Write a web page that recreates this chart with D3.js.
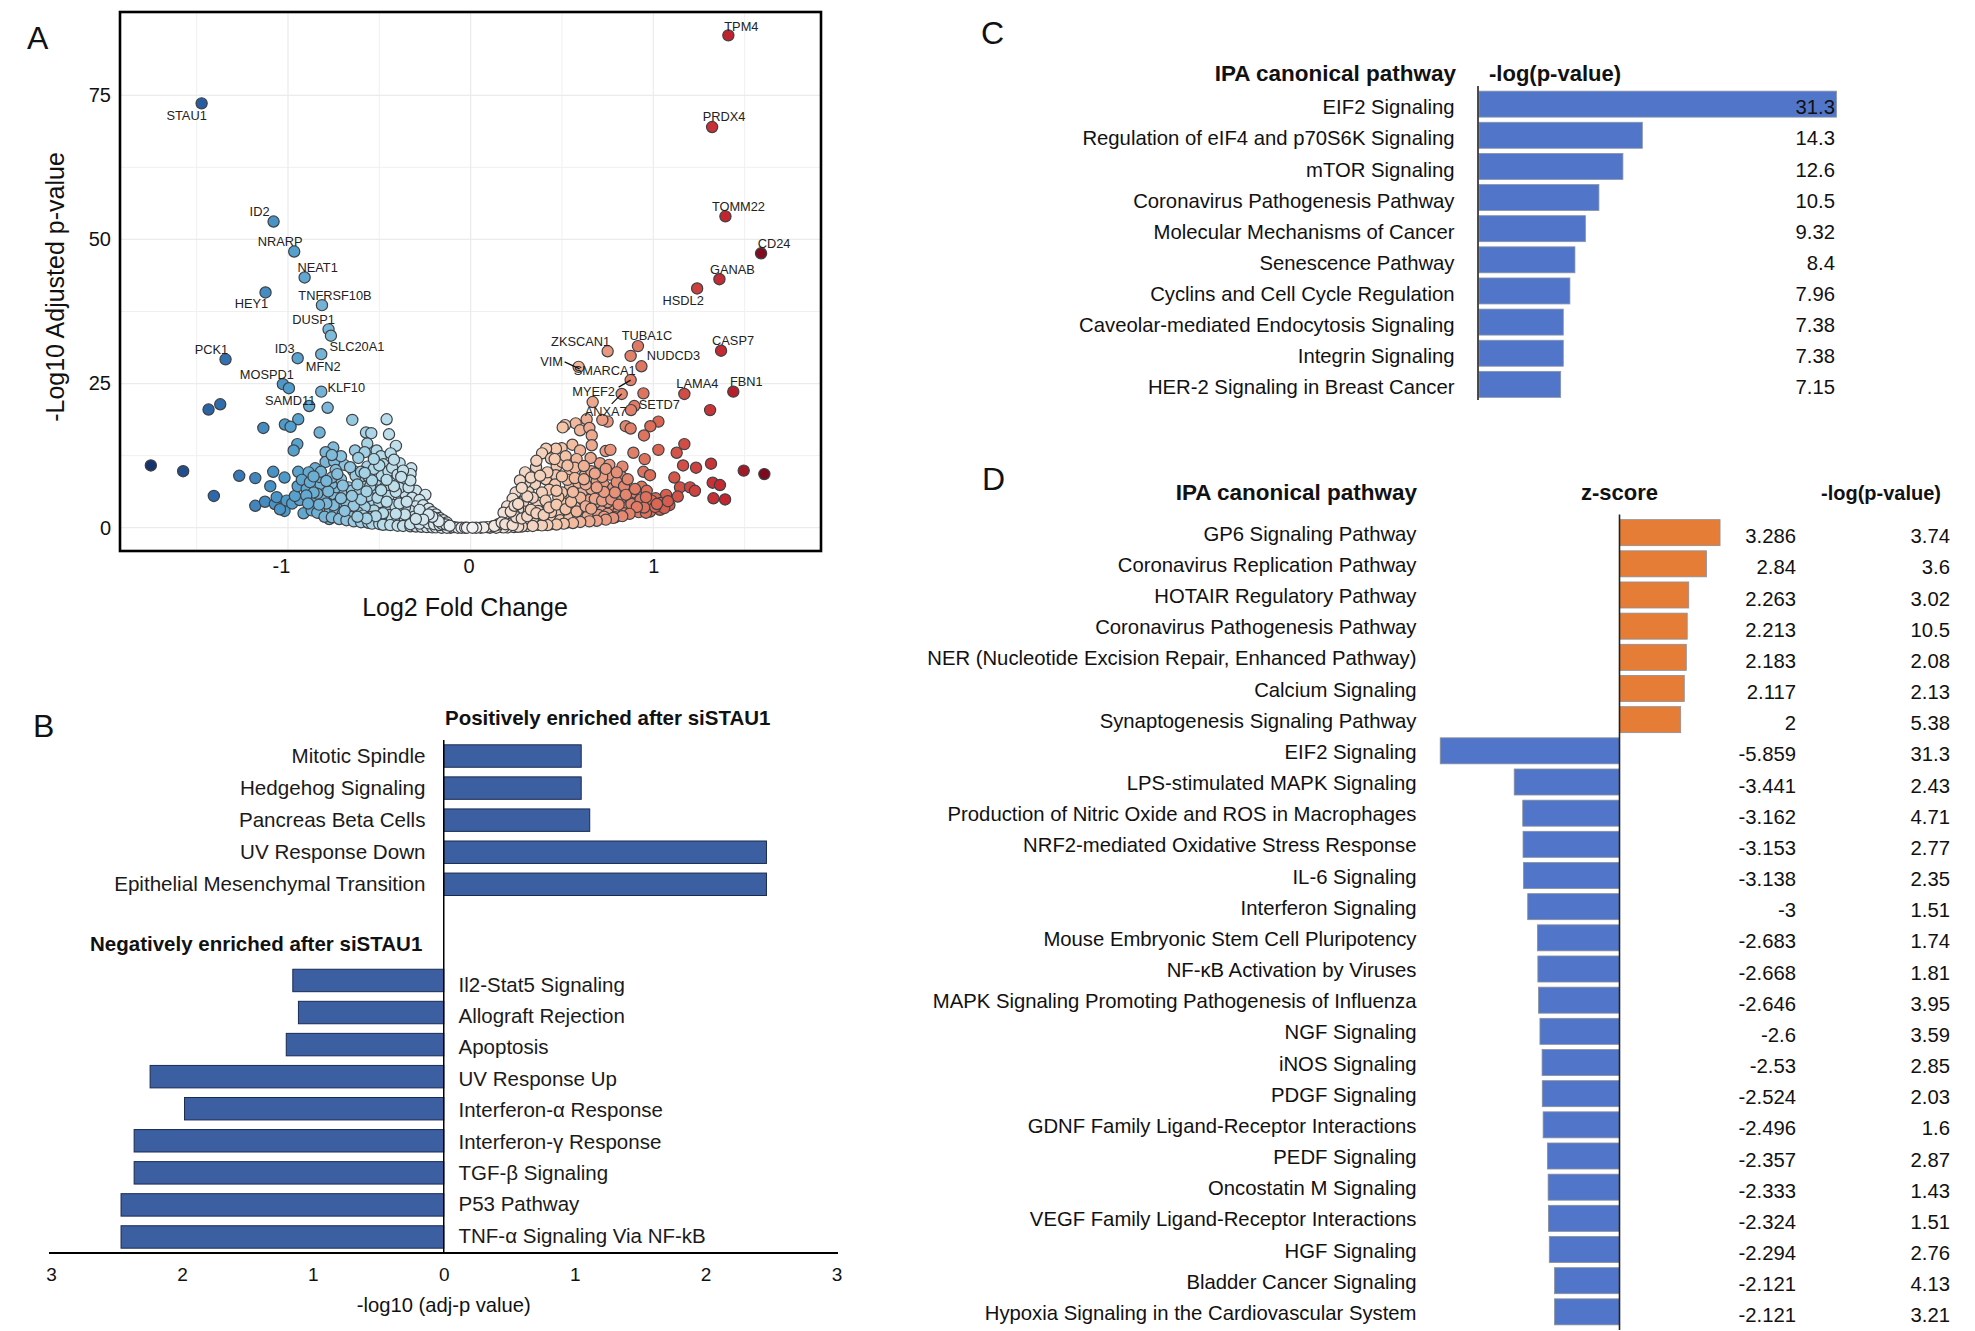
<!DOCTYPE html>
<html>
<head>
<meta charset="utf-8">
<script src="https://cdnjs.cloudflare.com/ajax/libs/d3/7.8.5/d3.min.js"></script>
<style>
body{margin:0;background:#fff;}
svg text{font-family:"Liberation Sans",Arial,sans-serif;}
</style>
</head>
<body>
<div class="canvas"></div>
<script>
// panel A: [log2 fold change, -log10 adj p]
var volcanoDown = [
[-1.473,73.6],[-1.079,53.1],[-.966,47.9],[-.909,43.4],[-1.123,40.8],[-.814,38.6],[-.778,34.4],[-.765,33.3],
[-.818,30.1],[-.947,29.4],[-1.342,29.2],[-1.028,24.9],[-.995,24.2],[-.818,23.6],[-.884,21.1],[-.783,20.8],
[-1.371,21.4],[-1.435,20.5],[-.944,18.8],[-1.017,17.9],[-.986,17.5],[-1.135,17.3],[-.827,16.5],[-.648,18.7],
[-.46,18.8],[-.573,16.5],[-.544,16.4],[-.447,16.2],[-.409,14.2],[-.566,14.6],[-.949,14.5],[-.969,13.4],
[-.752,13.9],[-.794,13.1],[-.633,13.4],[-.58,13.1],[-.515,13.4],[-.491,12.4],[-.438,12.9],[-.615,12.1],
[-.566,10.6],[-.478,11],[-.389,11.2],[-.325,10.3],[-.329,9.3],[-.692,10.9],[-.794,11.4],[-.747,11.5],
[-.851,10.3],[-.739,10],[-.643,9.9],[-1.751,10.8],[-1.574,9.8],[-1.267,9],[-1.179,8.6],[-1.081,9.7],
[-1.019,8.7],[-.944,9.7],[-.887,9.6],[-1.097,7.2],[-1.406,5.5],[-1.179,3.8],[-1.126,4.5],[-1.072,4.1],
[-1.062,5.3],[-1.019,2.9],[-1.044,3.2],[-1.008,4.7],[-.977,4.2],[-.936,4.8],[-.962,5.5],[-.947,7.2],
[-.924,8.3],[-.898,6.7],[-.823,7.6],[-.829,8.8],[-.852,4.8],[-.858,3.6],[-.801,4.9],[-.915,2.5],
[-.82,2.5],[-.774,1.5],[-.727,2.1],[-.75,5.8],[-.734,7],[-.761,7.6],[-.679,5.3],[-.67,7],
[-.606,8.3],[-.579,7.1],[-.518,7.6],[-.487,9],[-.424,8],[-.358,8.1],[-.619,4.8],[-.548,4.1],
[-.487,5.8],[-.413,5.1],[-.356,5.8],[-.299,6.4],[-.248,5.7],[-.661,3.2],[-.564,2.5],[-.639,1.5],
[-.688,1.6],[-.58,1.1],[-.52,1.2],[-.46,.6],[-.416,.6],[-.365,.75],[-.281,.35],[-.219,.17],
[-.155,.06],[-.11,0],[-.8,3.3],[-.78,6.3],[-.71,8.4],[-.69,6.1],[-.65,6.4],[-.63,9],
[-.6,9.7],[-.56,8.9],[-.53,10.2],[-.45,9.8],[-.43,10.4],[-.4,9.2],[-.37,9.9],[-.52,6.5],
[-.47,7],[-.44,6.7],[-.39,6.9],[-.34,7],[-.32,5.2],[-.28,4.8],[-.3,3.7],[-.26,3.9],
[-.23,3.3],[-.21,2.7],[-.19,2.3],[-.17,1.7],[-.15,1.3],[-.13,.9],[-.2,1.2],[-.24,1.9],
[-.27,2.5],[-.33,2.9],[-.36,3.5],[-.4,3.2],[-.43,4],[-.47,3.3],[-.5,4.4],[-.53,3],
[-.58,3.6],[-.62,2.7],[-.66,2.4],[-.71,3.1],[-.73,4.2],[-.68,4.3],[-.61,6],[-.56,5.5],
[-.51,5.2],[-.45,5.5],[-.39,4.2],[-.35,4.5],[-.31,1.9],[-.29,1.1],[-.34,1.3],[-.38,1.7],
[-.42,1.5],[-.45,2.2],[-.49,1.8],[-.54,1.9],[-.59,2.1],[-.64,3.8],[-.35,.7],[-.3,.55],
[-.25,.4],[-.25,.9],[-.22,.55],[-.18,.3],[-.14,.4],[-.12,.15],[-.09,.1],[-.07,0],
[-.05,0],[-.03,0],[-.16,.8],[-.28,3.1],[-.41,6.2],[-.46,4.5],[-.55,7.2],[-.6,4.9],
[-.77,3],[-.84,5.9],[-.87,3],[-.74,2.9],[-.7,2.4],[-.66,1.9],[-.76,8.7],[-.82,9.7],
[-.88,7.9],[-.86,6.1],[-.9,5.6],[-.84,2.6],[-.8,1.9],[-.76,1.8],[-.72,1.5],[-.68,1.3],
[-.64,1.1],[-.6,.95],[-.56,.85],[-.54,.7],[-.5,.65],[-.48,.5],[-.44,.45],[-.4,.35],
[-.37,.3],[-.33,.25],[-.3,.2],[-.27,.15],[-.24,.1],[-.21,.05],[-.19,.05],[-.16,0],
[-.13,0],[-.02,0],[-.33,.6],[-.28,.7],[-.23,.75],[-.2,.6],[-.17,.45],[-.155,.6],
[-.135,.55],[-.115,.35],[-.19,1.6],[-.175,1.1],[-.21,1.9],[-.23,2.3],[-.26,1.4],[-.3,1.5],
[-.36,2.3],[-.41,2.4],[-.48,2.5],[-.52,2],[-.57,1.6],[-.62,1.9],[-.69,2.9],[-.75,3.9],
[-.79,4.2],[-.83,4],[-.89,4.2],[-.71,5.1],[-.65,5.5],[-.57,6.3],[-.49,6.5],[-.42,7.2],
[-.33,8.2],[-.38,8.8],[-.46,8.3],[-.54,8.2],[-.62,7.5],[-.7,7.3],[-.79,8.1],[-.86,8.9],
[-.73,9.3],[-.66,10.5],[-.58,9.5],[-.5,10.8],[-.42,11.8],[-.71,12.4],[-.76,12.6],[-.53,11.9]
];
var volcanoUp = [
[1.411,85.4],[1.322,69.5],[1.395,54],[1.59,47.6],[1.362,43.1],[1.24,41.5],[1.371,30.7],[.75,30.6],
[.916,31.5],[.876,29.8],[.935,28],[.591,27.9],[.876,25.6],[.827,23.2],[.946,23.3],[1.17,23.2],
[1.438,23.6],[.668,21.8],[.896,21.1],[.878,20.4],[1.311,20.4],[1.028,18.4],[.984,17.6],[.849,17.6],
[.876,17.2],[.949,16],[.75,18.4],[.721,18.7],[.635,18.8],[.575,18.1],[.517,17.8],[.504,17.4],
[.599,16.9],[.65,17.3],[.663,16],[.663,14.3],[.557,14.4],[.498,13.8],[.467,13.7],[.413,13.7],
[.391,12.9],[.599,13.4],[.739,13.3],[.765,13.5],[.891,13],[1.028,13.5],[1.17,14.5],[1.128,13],
[.953,11.9],[1.163,10.8],[1.234,10.4],[1.316,11.1],[1.495,9.9],[1.608,9.3],[.946,9.7],[.982,9.1],
[.831,10.6],[.827,8.8],[1.115,8.7],[1.325,7.8],[1.365,7.4],[1.146,7],[1.201,7],[1.228,6.4],
[1.329,5.1],[1.393,4.9],[1.07,5.7],[1.134,5.4],[1.013,5.1],[1.088,3.9],[.936,7.1],[.882,6],
[.964,6.4],[.958,4.2],[.982,2.8],[1.037,3.1],[.927,3.1],[.873,2.8],[.818,2.2],[.776,2],
[.727,1.6],[.672,1.4],[.613,1.3],[.526,.9],[.438,.6],[.367,.5],[.31,.3],[.237,.1],
[.17,.1],[.106,0],[.055,0],[.708,11.2],[.763,9.2],[.759,10.9],[.626,9.1],[.544,9.6],
[.471,10.7],[.358,10.5],[.298,9.6],[.352,7.6],[.412,8.4],[.467,9.1],[.58,11.9],[.657,12.1],
[.544,7],[.462,7.5],[.246,6.1],[.316,6.2],[.288,4.5],[.361,3.9],[.407,2.8],[.535,5.1],
[.571,3.6],[.705,5.8],[.66,9.8],[.69,8.1],[.73,7.4],[.78,6.9],[.8,7.9],[.84,7.2],
[.86,4.7],[.79,4.1],[.76,5.6],[.7,3.9],[.65,4.8],[.61,6.2],[.59,7.8],[.53,8.3],
[.5,6.1],[.43,6.6],[.39,6.1],[.34,5.2],[.3,7.8],[.41,4.7],[.46,3.3],[.5,4.3],
[.56,2.4],[.62,3],[.67,2.6],[.72,2.9],[.77,3.1],[.83,3.6],[.9,4.2],[.66,6.7],
[.48,2.2],[.44,1.5],[.38,1.7],[.33,2.2],[.29,2.8],[.26,3.2],[.24,2.2],[.21,1.6],
[.19,1.1],[.16,.7],[.14,.35],[.12,.2],[.09,.1],[.07,.05],[.03,0],[.27,.9],
[.31,1.2],[.35,1],[.4,1],[.49,1.3],[.54,1.7],[.59,1.9],[.64,2],[.7,2.2],
[.75,2.4],[.81,2.9],[.85,3.6],[.92,2.7],[.96,2.6],[.57,10.4],[.5,11.4],[.44,12],
[.36,11.6],[.33,8.7],[.27,8.2],[.23,5],[.2,3.7],[.18,2.6],[.52,12.4],[.62,10.7],
[.72,8.8],[.6,5.2],[.48,5.3],[.37,2.9],[.25,1.2],[.22,.7],[.3,.7],[.44,2.7],
[.75,4.4],[.68,5],[.82,5],[.73,1.9],[.88,4.1],[.79,1.8],[.84,2.5],[.93,4.9],[.99,4.7],
[1.04,4.3],[1.06,3.4],[1.01,3.6],[.95,3.5],[.91,3.6],[.87,2.4],[.83,2],[.78,1.7],
[.74,1.4],[.69,1.2],[.65,1.1],[.6,1],[.56,.8],[.51,.7],[.47,.55],[.42,.45],
[.39,.4],[.34,.3],[.28,.2],[.26,.15],[.2,.05],[.18,.05],[.14,0],[.01,0],
[.15,.55],[.13,.3],[.17,.9],[.19,.6],[.23,.45],[.25,1.8],[.28,1.6],[.31,2],
[.22,2.8],[.24,3.8],[.26,4.1],[.33,3.1],[.36,2.5],[.4,2.2],[.43,3.5],[.47,4],
[.52,3.2],[.55,4.5],[.58,2.8],[.63,3.7],[.66,3.3],[.72,4.7],[.77,4.9],[.81,4],
[.85,5.7],[.79,6.1],[.73,6.2],[.69,7],[.63,7.5],[.57,8.6],[.5,8.9],[.42,9.6],
[.38,9],[.31,5.4],[.28,6.9],[.47,6.4],[.56,6.2],[.62,8.4],[.68,9.4],[.74,10.2],
[.8,9.6],[.86,8.4],[.9,6.7],[.96,5.3],[1.02,4.1],[1.08,4.6],[.53,10.8],[.46,11.9]
];
var geneNames = ["STAU1","ID2","NRARP","NEAT1","HEY1","TNFRSF10B","DUSP1","SLC20A1","ID3","MFN2","PCK1","MOSPD1","KLF10","SAMD11",
  "TPM4","PRDX4","TOMM22","CD24","GANAB","HSDL2","ZKSCAN1","TUBA1C","NUDCD3","CASP7","VIM","SMARCA1","MYEF2","ANXA7","SETD7","LAMA4","FBN1"];
var genePoints = [[-1.473,73.6],[-1.079,53.1],[-.966,47.9],[-.909,43.4],[-1.123,40.8],[-.814,38.6],[-.778,34.4],[-.765,33.3],[-.947,29.4],[-.818,30.1],[-1.342,29.2],[-1.028,24.9],[-.818,23.6],[-.884,21.1],
  [1.411,85.4],[1.322,69.5],[1.395,54],[1.59,47.6],[1.362,43.1],[1.24,41.5],[.75,30.6],[.916,31.5],[.935,28],[1.371,30.7],[.591,27.9],[.876,29.8],[.876,25.6],[.827,23.2],[.896,21.1],[1.17,23.2],[1.438,23.6]];
var volcanoXTicks = [-1,0,1];
var volcanoYTicks = [0,25,50,75];

// panel B
var hallmarkUp = ["Mitotic Spindle","Hedgehog Signaling","Pancreas Beta Cells","UV Response Down","Epithelial Mesenchymal Transition"];
var hallmarkUpValues = [1.05,1.05,1.115,2.465,2.465];
var hallmarkDown = ["Il2-Stat5 Signaling","Allograft Rejection","Apoptosis","UV Response Up","Interferon-α Response","Interferon-γ Response","TGF-β Signaling","P53 Pathway","TNF-α Signaling Via NF-kB"];
var hallmarkDownValues = [1.153,1.11,1.203,2.243,1.98,2.365,2.365,2.465,2.465];
var hallmarkTicks = [-3,-2,-1,0,1,2,3];

// panel C
var ipaPathways = ["EIF2 Signaling","Regulation of eIF4 and p70S6K Signaling","mTOR Signaling","Coronavirus Pathogenesis Pathway","Molecular Mechanisms of Cancer","Senescence Pathway","Cyclins and Cell Cycle Regulation","Caveolar-mediated Endocytosis Signaling","Integrin Signaling","HER-2 Signaling in Breast Cancer"];
var ipaLogP = [31.3,14.3,12.6,10.5,9.32,8.4,7.96,7.38,7.38,7.15];

// panel D
var zPathways = ["GP6 Signaling Pathway","Coronavirus Replication Pathway","HOTAIR Regulatory Pathway","Coronavirus Pathogenesis Pathway","NER (Nucleotide Excision Repair, Enhanced Pathway)","Calcium Signaling","Synaptogenesis Signaling Pathway","EIF2 Signaling","LPS-stimulated MAPK Signaling","Production of Nitric Oxide and ROS in Macrophages","NRF2-mediated Oxidative Stress Response","IL-6 Signaling","Interferon Signaling","Mouse Embryonic Stem Cell Pluripotency","NF-κB Activation by Viruses","MAPK Signaling Promoting Pathogenesis of Influenza","NGF Signaling","iNOS Signaling","PDGF Signaling","GDNF Family Ligand-Receptor Interactions","PEDF Signaling","Oncostatin M Signaling","VEGF Family Ligand-Receptor Interactions","HGF Signaling","Bladder Cancer Signaling","Hypoxia Signaling in the Cardiovascular System"];
var zScores = [3.286,2.84,2.263,2.213,2.183,2.117,2,-5.859,-3.441,-3.162,-3.153,-3.138,-3,-2.683,-2.668,-2.646,-2.6,-2.53,-2.524,-2.496,-2.357,-2.333,-2.324,-2.294,-2.121,-2.121];
var zLogP = [3.74,3.6,3.02,10.5,2.08,2.13,5.38,31.3,2.43,4.71,2.77,2.35,1.51,1.74,1.81,3.95,3.59,2.85,2.03,1.6,2.87,1.43,1.51,2.76,4.13,3.21];

var svg = d3.select('.canvas').append('svg')
    .attr('width',1975).attr('height',1331)
    .style('display','block');

function panelLetter(t,x,y){
    svg.append('text').text(t).attr('x',x).attr('y',y).attr('font-size',32).attr('fill','#111');
}
panelLetter('A',27,49);
panelLetter('B',33,737);
panelLetter('C',981,44);
panelLetter('D',982,490);

// ---------- A: volcano
var frame = {l:120,t:12,r:821,b:551};
var xA = d3.scaleLinear().domain([-1,1]).range([288,653.3]);
var yA = d3.scaleLinear().domain([0,75]).range([527.7,95.3]);
var colorA = d3.scaleLinear()
    .domain([-1.75,-1.4,-1,-.5,0,.5,1,1.4,1.6])
    .range(['#17336b','#2d69ad','#4f9ccb','#b4dbe9','#f2f2f2','#f5c6a9','#dc6a55','#c3242e','#7e0c20']);
var gA = svg.append('g').attr('class','volcano');

// grid, major + minor
[-1.5,-.5,.5,1.5].forEach(function(d){
    gA.append('line').attr('x1',xA(d)).attr('x2',xA(d)).attr('y1',frame.t).attr('y2',frame.b).attr('stroke','#f0f0f0');
});
[12.5,37.5,62.5].forEach(function(d){
    gA.append('line').attr('y1',yA(d)).attr('y2',yA(d)).attr('x1',frame.l).attr('x2',frame.r).attr('stroke','#f0f0f0');
});
volcanoXTicks.forEach(function(d){
    gA.append('line').attr('x1',xA(d)).attr('x2',xA(d)).attr('y1',frame.t).attr('y2',frame.b).attr('stroke','#ebebeb').attr('stroke-width',1.2);
});
volcanoYTicks.forEach(function(d){
    gA.append('line').attr('y1',yA(d)).attr('y2',yA(d)).attr('x1',frame.l).attr('x2',frame.r).attr('stroke','#ebebeb').attr('stroke-width',1.2);
});

gA.append('g').selectAll('circle').data(volcanoDown.concat(volcanoUp)).enter().append('circle')
    .attr('cx',function(d){return xA(d[0]);})
    .attr('cy',function(d){return yA(d[1]);})
    .attr('r',5.6)
    .attr('fill',function(d){return colorA(d[0]);})
    .attr('stroke','#3d4145')
    .attr('stroke-width',1.2);

// label offsets from the point, px
var geneNudge = {STAU1:[-15,12],ID2:[-14,-10],NRARP:[-14,-10],NEAT1:[13,-10],HEY1:[-14,11],TNFRSF10B:[13,-10],DUSP1:[-15,-10],SLC20A1:[26,11],
    ID3:[-13,-10],MFN2:[2,12],PCK1:[-14,-10],MOSPD1:[-16,-10],KLF10:[25,-4],SAMD11:[-19,-6],TPM4:[13,-9],PRDX4:[12,-10],TOMM22:[13,-10],CD24:[13,-10],
    GANAB:[13,-10],HSDL2:[-14,12],ZKSCAN1:[-27,-10],TUBA1C:[9,-11],NUDCD3:[32,-11],CASP7:[12,-10],VIM:[-27,-5],SMARCA1:[-26,15],MYEF2:[-37,11],
    ANXA7:[-16,18],SETD7:[25,-2],LAMA4:[13,-10],FBN1:[13,-10]};

gA.append('g').selectAll('text').data(geneNames).enter().append('text')
    .text(function(d){return d;})
    .attr('x',function(d,i){return xA(genePoints[i][0])+geneNudge[d][0];})
    .attr('y',function(d,i){return yA(genePoints[i][1])+geneNudge[d][1];})
    .attr('dy','.35em').attr('text-anchor','middle')
    .attr('font-size',12.8).attr('fill','#222');

// leader lines, px from the point
var leaders = {VIM:[-14,-5,1,2],MYEF2:[-12,7,0,0],ANXA7:[-10,10,0,0]};
Object.keys(leaders).forEach(function(k){
    var p = genePoints[geneNames.indexOf(k)], o = leaders[k];
    gA.append('line').attr('x1',xA(p[0])+o[0]).attr('y1',yA(p[1])+o[1])
        .attr('x2',xA(p[0])+o[2]).attr('y2',yA(p[1])+o[3])
        .attr('stroke','#111').attr('stroke-width',1.2);
});

gA.append('rect').attr('x',frame.l).attr('y',frame.t).attr('width',frame.r-frame.l).attr('height',frame.b-frame.t)
    .attr('fill','none').attr('stroke','#000').attr('stroke-width',2.6);

var axA = gA.append('g').attr('transform','translate(0,'+frame.b+')')
    .call(d3.axisBottom(xA).tickValues(volcanoXTicks).tickSize(0).tickPadding(8).tickFormat(d3.format('d')));
axA.select('.domain').remove();
axA.selectAll('text').attr('font-size',20).attr('fill','#111')
    .text(function(d){return d;})
    .attr('x',function(d){return d<0?-7:(d==0?-2:0);});

var ayA = gA.append('g').attr('transform','translate('+frame.l+',0)')
    .call(d3.axisLeft(yA).tickValues(volcanoYTicks).tickSize(0).tickPadding(9));
ayA.select('.domain').remove();
ayA.selectAll('text').attr('font-size',20).attr('fill','#111');

gA.append('text').text('Log2 Fold Change').attr('x',465).attr('y',616).attr('text-anchor','middle').attr('font-size',25).attr('fill','#111');
gA.append('text').text('-Log10 Adjusted p-value')
    .attr('transform','translate(64,287) rotate(-90)').attr('text-anchor','middle').attr('font-size',25).attr('fill','#111');

// ---------- B: hallmark bars
var gB = svg.append('g').attr('class','hallmark');
var xB = d3.scaleLinear().domain([-3,3]).range([51,836.5]);
var zeroB = xB(0);
var rowsB = hallmarkUp.concat(['gap1','gap2']).concat(hallmarkDown);
var yB = d3.scaleBand().domain(rowsB).range([740,1253]).paddingInner(.3).paddingOuter(.15);
// the lower labels are set a little tighter than their bars
var yBLab = d3.scalePoint().domain(hallmarkDown)
    .range([yB(hallmarkDown[0])+yB.bandwidth()/2+4, yB(hallmarkDown[8])+yB.bandwidth()/2-1.5]);

gB.selectAll('rect.up').data(hallmarkUp).enter().append('rect').attr('class','up')
    .attr('x',zeroB).attr('y',function(d){return yB(d);})
    .attr('width',function(d,i){return xB(hallmarkUpValues[i])-zeroB;})
    .attr('height',yB.bandwidth());
gB.selectAll('rect.down').data(hallmarkDown).enter().append('rect').attr('class','down')
    .attr('x',function(d,i){return xB(-hallmarkDownValues[i]);}).attr('y',function(d){return yB(d);})
    .attr('width',function(d,i){return zeroB-xB(-hallmarkDownValues[i]);})
    .attr('height',yB.bandwidth());
gB.selectAll('rect').attr('fill','#3b5fa1').attr('stroke','#1b2a52').attr('stroke-width',1);

gB.selectAll('text.upl').data(hallmarkUp).enter().append('text').attr('class','upl')
    .text(function(d){return d;}).attr('x',425.5).attr('y',function(d){return yB(d)+yB.bandwidth()/2;})
    .attr('dy','.35em').attr('text-anchor','end').attr('font-size',20.6).attr('fill','#1a1a1a');
gB.selectAll('text.dnl').data(hallmarkDown).enter().append('text').attr('class','dnl')
    .text(function(d){return d;}).attr('x',458.5).attr('y',function(d){return yBLab(d);})
    .attr('dy','.35em').attr('font-size',20.5).attr('fill','#1a1a1a');

gB.append('text').text('Positively enriched after siSTAU1').attr('x',445).attr('y',725)
    .attr('font-size',20.5).attr('font-weight','bold').attr('fill','#111');
gB.append('text').text('Negatively enriched after siSTAU1').attr('x',90).attr('y',951)
    .attr('font-size',20.5).attr('font-weight','bold').attr('fill','#111');

gB.append('line').attr('x1',zeroB).attr('x2',zeroB).attr('y1',740).attr('y2',1253).attr('stroke','#000').attr('stroke-width',1.5);
var axB = gB.append('g').attr('transform','translate(0,1253)')
    .call(d3.axisBottom(xB).tickValues(hallmarkTicks).tickSize(0).tickPadding(15).tickFormat(function(d){return Math.abs(d);}));
axB.select('.domain').attr('d','M49,0H838').attr('stroke','#000').attr('stroke-width',1.8);
axB.selectAll('text').attr('font-size',19).attr('fill','#111');
gB.append('text').text('-log10 (adj-p value)').attr('x',zeroB).attr('y',1312).attr('text-anchor','middle').attr('font-size',20.2).attr('fill','#111');

// ---------- C: top canonical pathways
var gC = svg.append('g').attr('class','ipa');
var xC = d3.scaleLinear().domain([0,31.3]).range([1479,1836.5]);
var yC = d3.scaleBand().domain(ipaPathways).range([86,402.5]).padding(.165);

gC.selectAll('rect').data(ipaPathways).enter().append('rect')
    .attr('x',xC(0)).attr('y',function(d){return yC(d);})
    .attr('width',function(d,i){return xC(ipaLogP[i])-xC(0);})
    .attr('height',yC.bandwidth())
    .attr('fill','#5176c9').attr('stroke','#8a93a8').attr('stroke-width',.8);
gC.selectAll('text.lab').data(ipaPathways).enter().append('text').attr('class','lab')
    .text(function(d){return d;}).attr('x',1454.5).attr('y',function(d){return yC(d)+yC.bandwidth()/2+3;})
    .attr('dy','.35em').attr('text-anchor','end').attr('font-size',20.3).attr('fill','#111');
gC.selectAll('text.val').data(ipaLogP).enter().append('text').attr('class','val')
    .text(function(d){return d;}).attr('x',1835).attr('y',function(d,i){return yC(ipaPathways[i])+yC.bandwidth()/2+3;})
    .attr('dy','.35em').attr('text-anchor','end').attr('font-size',20.3).attr('fill','#111');
gC.append('text').text('IPA canonical pathway').attr('x',1456).attr('y',81).attr('text-anchor','end').attr('font-size',22.5).attr('font-weight','bold').attr('fill','#111');
gC.append('text').text('-log(p-value)').attr('x',1489).attr('y',81).attr('font-size',22).attr('font-weight','bold').attr('fill','#111');
gC.append('line').attr('x1',1478).attr('x2',1478).attr('y1',86).attr('y2',400).attr('stroke','#222').attr('stroke-width',1.6);

// ---------- D: z-score bars
var gD = svg.append('g').attr('class','zscore');
var xD = d3.scaleLinear().domain([0,1]).range([1619.5,1650.1]);
var yD = d3.scaleBand().domain(zPathways).range([514.5,1330]).padding(.165);

gD.selectAll('rect').data(zPathways).enter().append('rect')
    .attr('x',function(d,i){return Math.min(xD(0),xD(zScores[i]));})
    .attr('y',function(d){return yD(d);})
    .attr('width',function(d,i){return Math.abs(xD(zScores[i])-xD(0));})
    .attr('height',yD.bandwidth())
    .attr('fill',function(d,i){return zScores[i]>0?'#e57d37':'#5176c9';})
    .attr('stroke','#8a8f98').attr('stroke-width',.8);
gD.selectAll('text.lab').data(zPathways).enter().append('text').attr('class','lab')
    .text(function(d){return d;}).attr('x',1416.5).attr('y',function(d){return yD(d)+yD.bandwidth()/2+1;})
    .attr('dy','.35em').attr('text-anchor','end').attr('font-size',20.3).attr('fill','#111');
gD.selectAll('text.z').data(zScores).enter().append('text').attr('class','z')
    .text(function(d){return d;}).attr('x',1796).attr('y',function(d,i){return yD(zPathways[i])+yD.bandwidth()/2+3.5;})
    .attr('dy','.35em').attr('text-anchor','end').attr('font-size',20.3).attr('fill','#111');
gD.selectAll('text.p').data(zLogP).enter().append('text').attr('class','p')
    .text(function(d){return d;}).attr('x',1950).attr('y',function(d,i){return yD(zPathways[i])+yD.bandwidth()/2+3.5;})
    .attr('dy','.35em').attr('text-anchor','end').attr('font-size',20.3).attr('fill','#111');
gD.append('text').text('IPA canonical pathway').attr('x',1417).attr('y',500).attr('text-anchor','end').attr('font-size',22.5).attr('font-weight','bold').attr('fill','#111');
gD.append('text').text('z-score').attr('x',1619.5).attr('y',500).attr('text-anchor','middle').attr('font-size',22).attr('font-weight','bold').attr('fill','#111');
gD.append('text').text('-log(p-value)').attr('x',1941).attr('y',500).attr('text-anchor','end').attr('font-size',20).attr('font-weight','bold').attr('fill','#111');
gD.append('line').attr('x1',1619.5).attr('x2',1619.5).attr('y1',514.5).attr('y2',1330).attr('stroke','#222').attr('stroke-width',1.6);
</script>
</body>
</html>
